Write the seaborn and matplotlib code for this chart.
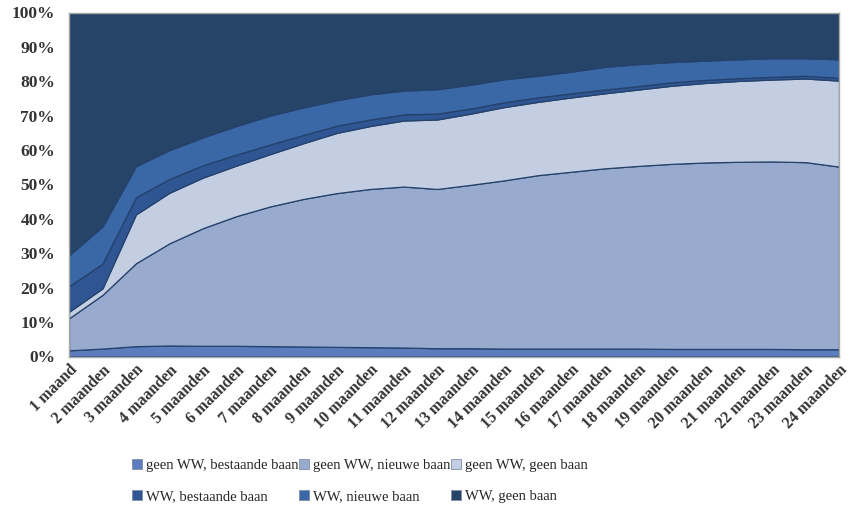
import matplotlib
matplotlib.use("Agg")
import matplotlib.pyplot as plt
import seaborn as sns
import numpy as np
from matplotlib.patches import Patch

months = ["1 maand"] + [f"{i} maanden" for i in range(2, 25)]

series_names = ["geen WW, bestaande baan", "geen WW, nieuwe baan", "geen WW, geen baan",
                "WW, bestaande baan", "WW, nieuwe baan", "WW, geen baan"]

geen_ww_bestaande = [1.8, 2.3, 3.0, 3.2, 3.1, 3.1, 3.0, 2.9, 2.8, 2.7, 2.6, 2.4,
                     2.4, 2.3, 2.3, 2.3, 2.3, 2.3, 2.2, 2.2, 2.2, 2.2, 2.1, 2.1]
geen_ww_nieuwe = [9.3, 15.6, 24.1, 29.7, 34.2, 37.7, 40.6, 42.9, 44.7, 46.0, 46.8, 46.3,
                  47.5, 48.9, 50.4, 51.4, 52.4, 53.1, 53.8, 54.2, 54.4, 54.5, 54.4, 53.1]
geen_ww_geen = [1.9, 1.9, 14.2, 14.7, 14.7, 14.7, 15.2, 16.2, 17.5, 18.3, 19.2, 20.2,
                20.7, 21.3, 21.3, 21.6, 21.8, 22.2, 22.7, 23.1, 23.5, 23.8, 24.3, 25.0]
ww_bestaande = [7.4, 7.2, 5.0, 4.0, 3.6, 3.2, 2.8, 2.4, 2.1, 1.9, 1.8, 1.7,
                1.5, 1.4, 1.3, 1.2, 1.1, 1.0, 1.0, 0.9, 0.8, 0.8, 0.8, 0.8]
ww_nieuwe = [9.0, 10.8, 9.0, 8.4, 8.1, 8.3, 8.4, 8.0, 7.4, 7.3, 6.9, 7.1,
             6.9, 6.7, 6.3, 6.3, 6.6, 6.4, 5.9, 5.6, 5.5, 5.4, 5.1, 5.4]
ww_geen = [70.6, 62.2, 44.7, 40.0, 36.3, 33.0, 30.0, 27.6, 25.5, 23.8, 22.7, 22.3,
           21.0, 19.4, 18.4, 17.2, 15.8, 15.0, 14.4, 14.0, 13.6, 13.3, 13.3, 13.6]

colors = ["#5b7dbd", "#98abce", "#c4cee2", "#2f5592", "#3a67a5", "#264468"]

sns.set_theme(style="white")
plt.rcParams['font.family'] = ['Liberation Serif', 'DejaVu Serif']

fig = plt.figure(figsize=(8.56, 5.09), dpi=100)
ax = fig.add_axes([69/856, 1-356.5/509, (839-69)/856, (356.5-12.5)/509])

x = np.arange(len(months))
layers = [geen_ww_bestaande, geen_ww_nieuwe, geen_ww_geen, ww_bestaande, ww_nieuwe, ww_geen]
ax.stackplot(x, *[np.array(l) / 100.0 for l in layers], colors=colors,
             edgecolor="#24416b", linewidth=0.9)

ax.set_xlim(0, len(months) - 1)
ax.set_ylim(0, 1)
ticks = np.arange(0, 1.01, 0.1)
ax.set_yticks(ticks)
ax.set_yticklabels([f"{int(round(v*100))}%" for v in ticks],
                   fontsize=12.5, fontweight="bold", color="#333333")
ax.set_xticks(x)
ax.set_xticklabels(months, rotation=45, ha="right", rotation_mode="anchor",
                   fontsize=11.5, fontweight="bold", color="#333333")
ax.tick_params(axis="x", length=0, pad=4)
ax.tick_params(axis="y", length=0, pad=10)
for s in ax.spines.values():
    s.set_color("#a6a6a6")
    s.set_linewidth(1.0)
ax.grid(False)

handles = [Patch(facecolor=c, edgecolor="#7f8fa8", linewidth=0.6) for c in colors]
order = [0, 3, 1, 4, 2, 5]
fig.legend([handles[i] for i in order], [series_names[i] for i in order],
           loc="upper left", bbox_to_anchor=(119/856, 1-446/509),
           ncol=3, frameon=False, handlelength=0.7, handleheight=0.7,
           handletextpad=0.25, columnspacing=0.05, labelspacing=1.2,
           prop={"family": "Liberation Serif", "size": 10.5})

fig.savefig("out.png", dpi=100)
